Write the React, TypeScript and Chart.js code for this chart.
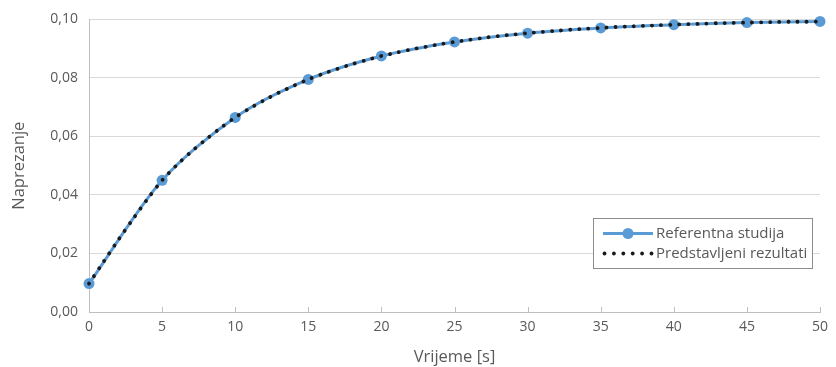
import React, { useEffect, useRef } from "react";
import { Chart, registerables } from "chart.js";

Chart.register(...registerables);

const refTimes = [0, 5, 10, 15, 20, 25, 30, 35, 40, 45, 50];
const refValues = [0.0097, 0.0450, 0.0665, 0.0795, 0.0875, 0.0923, 0.0953, 0.0971, 0.0982, 0.0989, 0.0993];

const simTimes = [
  0, 1, 2, 3, 4, 5, 6, 7, 8, 9, 10, 11, 12, 13, 14, 15, 16, 17, 18, 19, 20, 21, 22, 23, 24, 25,
  26, 27, 28, 29, 30, 31, 32, 33, 34, 35, 36, 37, 38, 39, 40, 41, 42, 43, 44, 45, 46, 47, 48, 49, 50,
];
const simValues = [
  0.0097, 0.0172, 0.0246, 0.0317, 0.0386, 0.0450, 0.0502, 0.0548, 0.0590, 0.0629, 0.0665,
  0.0696, 0.0724, 0.0750, 0.0773, 0.0795, 0.0814, 0.0831, 0.0847, 0.0861, 0.0875,
  0.0886, 0.0897, 0.0906, 0.0915, 0.0923, 0.0930, 0.0937, 0.0943, 0.0948, 0.0953,
  0.0957, 0.0961, 0.0965, 0.0968, 0.0971, 0.0974, 0.0976, 0.0978, 0.0980, 0.0982,
  0.0984, 0.0985, 0.0987, 0.0988, 0.0989, 0.0990, 0.0991, 0.0992, 0.0992, 0.0993,
];

const xTicks = [0, 5, 10, 15, 20, 25, 30, 35, 40, 45, 50];
const yTicks = [0, 0.02, 0.04, 0.06, 0.08, 0.1];

const seriesLabels = ["Referentna studija", "Predstavljeni rezultati"];
const axisTitles = { x: "Vrijeme [s]", y: "Naprezanje" };

const FONT = "'Open Sans', 'Noto Sans', sans-serif";
const TEXT = "#595959";
const BLUE = "#5B9BD5";

export default function App() {
  const ref = useRef<HTMLCanvasElement | null>(null);

  useEffect(() => {
    if (!ref.current) return;

    const extras = {
      id: "extras",
      afterDraw(chart: any) {
        const ctx = chart.ctx;
        const xs = chart.scales.x;
        const area = chart.chartArea;
        ctx.save();
        ctx.strokeStyle = "#bfbfbf";
        ctx.lineWidth = 1;
        for (const t of xTicks) {
          const px = Math.round(xs.getPixelForValue(t)) + 0.5;
          ctx.beginPath();
          ctx.moveTo(px, area.bottom);
          ctx.lineTo(px, area.bottom - 5);
          ctx.stroke();
        }
        const bx = area.right - 227;
        const by = area.bottom - 94;
        const bw = 219;
        const bh = 50;
        ctx.fillStyle = "#ffffff";
        ctx.fillRect(bx, by, bw, bh);
        ctx.strokeStyle = "#8c8c8c";
        ctx.lineWidth = 1;
        ctx.strokeRect(bx + 0.5, by + 0.5, bw, bh);
        const r1 = by + 15.5;
        const r2 = by + 35.5;
        const lx0 = bx + 10;
        const lx1 = bx + 60;
        ctx.strokeStyle = BLUE;
        ctx.lineWidth = 3;
        ctx.beginPath();
        ctx.moveTo(lx0, r1);
        ctx.lineTo(lx1, r1);
        ctx.stroke();
        ctx.fillStyle = BLUE;
        ctx.beginPath();
        ctx.arc((lx0 + lx1) / 2, r1, 5.5, 0, Math.PI * 2);
        ctx.fill();
        ctx.fillStyle = "#1a1a1a";
        for (let i = 0; i < 6; i++) {
          ctx.beginPath();
          ctx.arc(lx0 + 1.5 + i * 9.4, r2, 1.9, 0, Math.PI * 2);
          ctx.fill();
        }
        ctx.fillStyle = TEXT;
        ctx.font = `15px ${FONT}`;
        ctx.textBaseline = "middle";
        ctx.textAlign = "left";
        ctx.fillText(seriesLabels[0], lx1 + 3, r1);
        ctx.fillText(seriesLabels[1], lx1 + 3, r2);
        ctx.restore();
      },
    };

    const chart = new Chart(ref.current, {
      type: "line",
      data: {
        datasets: [
          {
            label: seriesLabels[0],
            data: refTimes.map((t, i) => ({ x: t, y: refValues[i] })),
            borderColor: BLUE,
            backgroundColor: BLUE,
            borderWidth: 3,
            pointRadius: 5.5,
            pointBorderWidth: 0,
            pointBackgroundColor: BLUE,
            tension: 0.3,
            clip: false,
            order: 2,
          },
          {
            label: seriesLabels[1],
            data: simTimes.map((t, i) => ({ x: t, y: simValues[i] })),
            borderColor: "#1a1a1a",
            borderWidth: 3.8,
            borderDash: [0.1, 9],
            borderCapStyle: "round",
            pointRadius: 0,
            tension: 0.3,
            clip: false,
            order: 1,
          },
        ],
      },
      options: {
        animation: false,
        responsive: false,
        maintainAspectRatio: false,
        layout: { padding: { top: 19, right: 16, left: 0, bottom: 0 } },
        plugins: { legend: { display: false }, tooltip: { enabled: false } },
        scales: {
          x: {
            type: "linear",
            min: 0,
            max: 50,
            afterBuildTicks: (s: any) => {
              s.ticks = xTicks.map((v) => ({ value: v }));
            },
            afterFit: (s: any) => {
              s.height = 55;
            },
            grid: { display: false, drawTicks: false },
            border: { display: true, color: "#bfbfbf", width: 1 },
            ticks: {
              padding: 7,
              color: TEXT,
              font: { family: FONT, size: 14 },
              maxRotation: 0,
            },
            title: {
              display: true,
              text: axisTitles.x,
              color: TEXT,
              font: { family: FONT, size: 16.5 },
              padding: { top: 0, bottom: 0 },
            },
          },
          y: {
            min: 0,
            max: 0.1,
            afterBuildTicks: (s: any) => {
              s.ticks = yTicks.map((v) => ({ value: v }));
            },
            afterFit: (s: any) => {
              s.width = 89;
            },
            grid: { color: "#d9d9d9", drawTicks: false, lineWidth: 1 },
            border: { display: true, color: "#bfbfbf", width: 1 },
            ticks: {
              padding: 11,
              color: TEXT,
              font: { family: FONT, size: 14 },
              callback: (v: any) => Number(v).toFixed(2).replace(".", ","),
            },
            title: {
              display: true,
              text: axisTitles.y,
              color: TEXT,
              font: { family: FONT, size: 16.5 },
              padding: { top: 9, bottom: 0 },
            },
          },
        },
      },
      plugins: [extras],
    });

    return () => chart.destroy();
  }, []);

  return (
    <div style={{ position: "fixed", left: 0, top: 0, width: 836, height: 367, background: "#fff" }}>
      <canvas ref={ref} width={836} height={367} style={{ width: 836, height: 367 }} />
    </div>
  );
}
